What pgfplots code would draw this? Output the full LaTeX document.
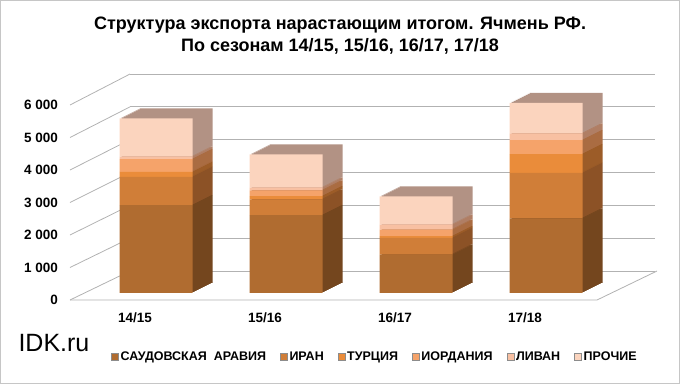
\documentclass[border=0pt]{standalone}
\usepackage{pgfplots}
\pgfplotsset{compat=1.18}
\usepackage{pgfplotstable}
\usepackage{fontspec}
\setmainfont{Liberation Sans}

\definecolor{saF}{RGB}{176,108,48}
\definecolor{saS}{RGB}{116,70,30}
\definecolor{irF}{RGB}{208,126,56}
\definecolor{irS}{RGB}{140,82,38}
\definecolor{trF}{RGB}{234,140,58}
\definecolor{trS}{RGB}{156,92,40}
\definecolor{joF}{RGB}{245,163,106}
\definecolor{joS}{RGB}{170,108,66}
\definecolor{lbF}{RGB}{248,192,162}
\definecolor{lbS}{RGB}{176,126,100}
\definecolor{otF}{RGB}{251,212,190}
\definecolor{otS}{RGB}{178,146,132}
\definecolor{gridc}{RGB}{178,178,178}

\pgfplotstableread{
x sa ir tr jo lb ot
0 2680 865 153 390 80 1165
1 2375 480 100 180 80 1015
2 1170 510 50 205 150 865
3 2275 1395 570 430 205 935
}\datatable

\pgfplotsset{
  barbase/.style={
    scale only axis, width=520pt, height=196.2pt,
    xmin=-0.5, xmax=3.5, ymin=0, ymax=6000,
    ybar stacked, bar width=73pt, hide axis,
  }
}

\begin{document}
\begin{tikzpicture}[x=1pt,y=1pt]
\path[use as bounding box] (0,0) rectangle (680,384);
\draw[gray!45] (0.5,0.5) rectangle (679.5,383.5);
\node[align=center, font=\fontsize{18}{22}\selectfont\bfseries] at (340,348)
  {Структура экспорта нарастающим итогом. Ячмень РФ.\\По сезонам 14/15, 15/16, 16/17, 17/18};
% floor
\fill[white] (70,84) -- (597,84) -- (657,113) -- (130,113) -- cycle;
\draw[gridc, line width=0.8pt] (70,84) -- (597,84) -- (657,113);
% side wall lines
\foreach \k in {0,...,6} {
  \draw[gridc, line width=0.8pt] (70,{84+32.5*\k}) -- (130,{113+32.83*\k});
}
% back wall
\begin{axis}[scale only axis, width=525pt, height=197pt, at={(130pt,113pt)},
  xmin=0, xmax=1, ymin=0, ymax=6000, xtick=\empty, ytick={0,1000,...,6000},
  yticklabels={}, major tick length=0pt, axis line style={draw=none},
  ymajorgrids, grid style={gridc, line width=0.8pt}]
\end{axis}
% bar sides (extrusion copies)
\foreach \k in {10,9,...,1}{
\begin{axis}[barbase, at={({91pt+2pt*\k},{91.2pt+1pt*\k})}]
 \addplot[fill=saS,draw=none] table[x=x,y=sa]{\datatable};
 \addplot[fill=irS,draw=none] table[x=x,y=ir]{\datatable};
 \addplot[fill=trS,draw=none] table[x=x,y=tr]{\datatable};
 \addplot[fill=joS,draw=none] table[x=x,y=jo]{\datatable};
 \addplot[fill=lbS,draw=none] table[x=x,y=lb]{\datatable};
 \addplot[fill=otS,draw=none] table[x=x,y=ot]{\datatable};
\end{axis}
}
% front faces + legend
\begin{axis}[barbase, at={(91pt,91.2pt)},
  legend style={at={(0.546,-0.327)}, anchor=center, draw=none, fill=none,
    legend columns=6, font=\fontsize{12.5}{14}\selectfont\bfseries,
    /tikz/every even column/.append style={column sep=12pt}},
  legend image code/.code={\draw[#1, draw=black!45] (0pt,-3.5pt) rectangle (7pt,3.5pt);}]
 \addplot[fill=saF,draw=none] table[x=x,y=sa]{\datatable};
 \addplot[fill=irF,draw=none] table[x=x,y=ir]{\datatable};
 \addplot[fill=trF,draw=none] table[x=x,y=tr]{\datatable};
 \addplot[fill=joF,draw=none] table[x=x,y=jo]{\datatable};
 \addplot[fill=lbF,draw=none] table[x=x,y=lb]{\datatable};
 \addplot[fill=otF,draw=none] table[x=x,y=ot]{\datatable};
 \legend{САУДОВСКАЯ\ \ АРАВИЯ, ИРАН, ТУРЦИЯ, ИОРДАНИЯ, ЛИВАН, ПРОЧИЕ}
\end{axis}
% front axis labels
\begin{axis}[scale only axis, width=520pt, height=195pt, at={(70pt,84pt)},
  xmin=-0.5, xmax=3.5, ymin=0, ymax=6000, axis line style={draw=none},
  major tick length=0pt,
  xtick={0,1,2,3}, xticklabels={14/15,15/16,16/17,17/18},
  ytick={0,1000,...,6000},
  yticklabels={0,1 000,2 000,3 000,4 000,5 000,6 000},
  /pgf/number format/assume math mode=true,
  ticklabel style={font=\fontsize{13.5}{16}\selectfont\bfseries},
  yticklabel style={inner sep=0pt, anchor=east, xshift=-12pt},
  xticklabel style={inner sep=0pt, anchor=center, yshift=-18pt}]
\end{axis}
\node[anchor=west, font=\fontsize{25}{28}\selectfont] at (15,41) {IDK.ru};
\end{tikzpicture}
\end{document}
